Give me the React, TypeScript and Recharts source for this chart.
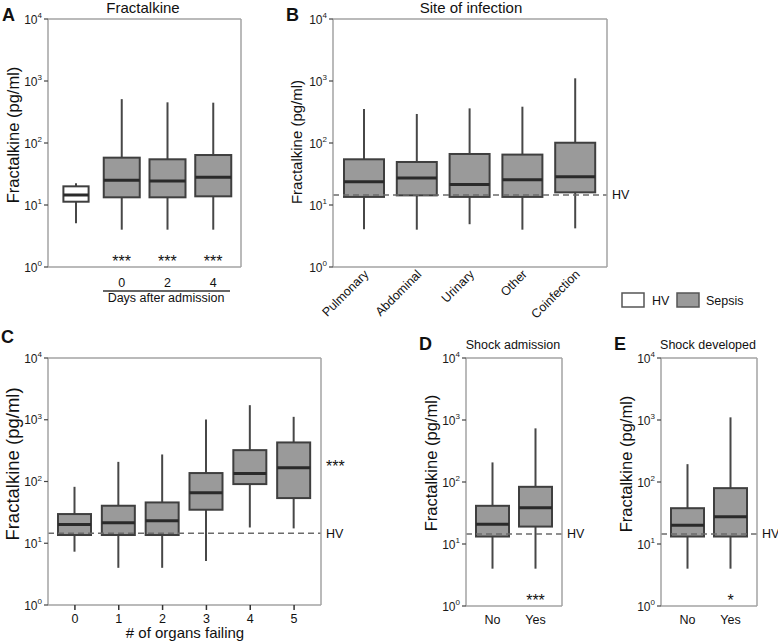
import React from 'react';
import { ComposedChart, Bar, XAxis, YAxis, ReferenceLine } from 'recharts';

// Panel A - fractalkine over days after admission
const aNames = ['HV', '0', '2', '4'];
const aMin = [5.1, 4.0, 4.0, 4.0];
const aQ1 = [11.3, 13.3, 13.3, 13.8];
const aMed = [14.5, 25, 24.4, 28];
const aQ3 = [20, 58, 54.6, 64];
const aMax = [22.5, 510, 453, 447];
const aStars = ['', '***', '***', '***'];

// Panel B - site of infection
const bNames = ['Pulmonary', 'Abdominal', 'Urinary', 'Other', 'Coinfection'];
const bMin = [4.05, 4.0, 4.9, 4.0, 4.2];
const bQ1 = [13.5, 14.3, 13.5, 13.5, 16];
const bMed = [23.8, 27.3, 21.5, 25.6, 28.6];
const bQ3 = [54.6, 49.4, 66.5, 65, 101];
const bMax = [353, 294, 362, 385, 1105];

// Panel C - number of organs failing
const cNames = ['0', '1', '2', '3', '4', '5'];
const cMin = [7.3, 4.0, 4.0, 5.15, 18, 17.4];
const cQ1 = [13.6, 13.6, 13.6, 34.9, 90.8, 53.9];
const cMed = [20.2, 21.5, 23.2, 65.7, 135, 167];
const cQ3 = [29.7, 40.5, 45.8, 137, 322, 429];
const cMax = [82, 208, 274, 1010, 1722, 1115];

// Panel D - shock at admission
const dNames = ['No', 'Yes'];
const dMin = [4.0, 4.0];
const dQ1 = [13.2, 19.1];
const dMed = [20.9, 38.3];
const dQ3 = [41.3, 83.6];
const dMax = [207, 733];
const dStars = ['', '***'];

// Panel E - shock developed
const eNames = ['No', 'Yes'];
const eMin = [4.0, 4.0];
const eQ1 = [13.2, 13.2];
const eMed = [20.1, 27.4];
const eQ3 = [37.8, 79.6];
const eMax = [194, 1104];
const eStars = ['', '*'];

const hvLevel = 14.5;
const yTicks = [1, 10, 100, 1000, 10000];

const FONT = '"Liberation Sans", Arial, Helvetica, sans-serif';
const FRAME = '#a3a3a3';
const BOX_FILL = '#9a9a9a';

interface Row {
  name: string;
  min: number;
  q1: number;
  med: number;
  q3: number;
  max: number;
  star: string;
}

const makeRows = (names: string[], mn: number[], q1: number[], med: number[], q3: number[], mx: number[], stars?: string[]): Row[] =>
  names.map((name, i) => ({ name, min: mn[i], q1: q1[i], med: med[i], q3: q3[i], max: mx[i], star: stars ? stars[i] : '' }));

const aRows = makeRows(aNames, aMin, aQ1, aMed, aQ3, aMax, aStars);
const bRows = makeRows(bNames, bMin, bQ1, bMed, bQ3, bMax);
const cRows = makeRows(cNames, cMin, cQ1, cMed, cQ3, cMax);
const dRows = makeRows(dNames, dMin, dQ1, dMed, dQ3, dMax, dStars);
const eRows = makeRows(eNames, eMin, eQ1, eMed, eQ3, eMax, eStars);

// bar spans [min, max]; inner box positions follow the same log scale
const BoxShape = (props: any) => {
  const { x, y, width, height, payload } = props;
  if (!payload) return null;
  const top = Math.min(y, y + height);
  const bot = Math.max(y, y + height);
  const lo = Math.log10(payload.min);
  const hi = Math.log10(payload.max);
  const py = (v: number) => top + ((bot - top) * (hi - Math.log10(v))) / (hi - lo);
  const isHV = payload.name === 'HV';
  const w = isHV ? width * 0.7 : width;
  const cx = x + width / 2;
  const bx = cx - w / 2;
  return (
    <g>
      <line x1={cx} x2={cx} y1={top} y2={bot} stroke="#474747" strokeWidth={2} />
      <rect x={bx} y={py(payload.q3)} width={w} height={py(payload.q1) - py(payload.q3)} fill={isHV ? '#ffffff' : BOX_FILL} stroke="#3f3f3f" strokeWidth={2} />
      <line x1={bx} x2={bx + w} y1={py(payload.med)} y2={py(payload.med)} stroke="#2a2a2a" strokeWidth={3} />
    </g>
  );
};

const LogTick = (props: any) => {
  const { x, y, payload } = props;
  const e = Math.round(Math.log10(payload.value));
  return (
    <text x={x} y={y} dy={4.5} textAnchor="end" fontSize={12} fill="#1a1a1a" fontFamily={FONT}>
      10<tspan dy={-5.5} fontSize={8}>{e}</tspan>
    </text>
  );
};

// category label under the axis, significance stars just above it
const starTick = (rows: Row[], labelGap: number, starGap: number, hide: string[] = []) => (p: any) => {
  const r = rows.find((row) => row.name === p.payload.value);
  return (
    <g fontFamily={FONT} fill="#111">
      <text x={p.x} y={p.y + labelGap} textAnchor="middle" fontSize={12.5}>
        {hide.includes(p.payload.value) ? '' : p.payload.value}
      </text>
      {r && r.star ? (
        <text x={p.x} y={p.y - starGap} textAnchor="middle" fontSize={16}>
          {r.star}
        </text>
      ) : null}
    </g>
  );
};

const rotatedTick = (p: any) => (
  <text transform={`translate(${p.x + 5},${p.y + 8}) rotate(-45)`} textAnchor="end" fontSize={12.5} fill="#111" fontFamily={FONT}>
    {p.payload.value}
  </text>
);

interface PanelProps {
  left: number;
  top: number;
  width: number;
  height: number;
  margin: { top: number; right: number; bottom: number; left: number };
  yWidth: number;
  xHeight: number;
  rows: Row[];
  barSize: number;
  hvLine: boolean;
  xTicks?: boolean;
  tick: any;
}

const BoxPanel = ({ left, top, width, height, margin, yWidth, xHeight, rows, barSize, hvLine, xTicks, tick }: PanelProps) => (
  <div style={{ position: 'absolute', left, top }}>
    <ComposedChart width={width} height={height} data={rows} margin={{ ...margin, top: margin.top - 1, right: margin.right - 1 }}>
      <XAxis
        dataKey="name"
        type="category"
        height={xHeight}
        padding={{ left: 5, right: 5 }}
        interval={0}
        tickLine={xTicks ? { stroke: '#333', strokeWidth: 1.5 } : false}
        tickSize={xTicks ? 5 : 0}
        tickMargin={0}
        axisLine={{ stroke: FRAME, strokeWidth: 1.5 }}
        tick={tick}
      />
      <XAxis xAxisId="top" orientation="top" dataKey="name" height={1} tick={false} tickLine={false} axisLine={{ stroke: FRAME, strokeWidth: 1.5 }} />
      <YAxis
        type="number"
        scale="log"
        domain={[1, 10000]}
        ticks={yTicks}
        interval={0}
        allowDataOverflow
        width={yWidth}
        tickSize={4}
        tickMargin={2}
        tickLine={{ stroke: '#444', strokeWidth: 1.2 }}
        axisLine={{ stroke: FRAME, strokeWidth: 1.5 }}
        tick={<LogTick />}
      />
      <YAxis yAxisId="right" orientation="right" type="number" domain={[0, 1]} width={1} tick={false} tickLine={false} axisLine={{ stroke: FRAME, strokeWidth: 1.5 }} />
      {hvLine && (
        <ReferenceLine
          y={hvLevel}
          stroke="#6b6b6b"
          strokeDasharray="6 4"
          strokeWidth={1.5}
          label={{ value: 'HV', position: 'right', fill: '#111', fontSize: 12.5, fontFamily: FONT }}
        />
      )}
      <Bar dataKey={(d: Row) => [d.min, d.max]} barSize={barSize} shape={BoxShape} isAnimationActive={false} />
    </ComposedChart>
  </div>
);

const yLabel = (x: number, y: number, size: number) => (
  <text transform={`translate(${x},${y}) rotate(-90)`} textAnchor="middle" dominantBaseline="central" fontSize={size}>
    Fractalkine (pg/ml)
  </text>
);

export default function App() {
  return (
    <div style={{ position: 'absolute', left: 0, top: 0, width: 778, height: 642, background: '#fff', fontFamily: FONT }}>
      <BoxPanel left={0} top={0} width={250} height={310} margin={{ top: 19, right: 9, bottom: 18, left: 0 }} yWidth={48} xHeight={25} rows={aRows} barSize={36} hvLine={false} tick={starTick(aRows, 19.5, 0, ['HV'])} />
      <BoxPanel left={250} top={0} width={390} height={320} margin={{ top: 19, right: 33, bottom: 0, left: 0 }} yWidth={83} xHeight={53} rows={bRows} barSize={40} hvLine tick={rotatedTick} />
      <BoxPanel left={0} top={340} width={360} height={302} margin={{ top: 18, right: 39, bottom: 0, left: 0 }} yWidth={48} xHeight={37} rows={cRows} barSize={33} hvLine xTicks tick={starTick(cRows, 12.5, 5)} />
      <BoxPanel left={380} top={340} width={230} height={302} margin={{ top: 18, right: 48, bottom: 0, left: 0 }} yWidth={86} xHeight={36} rows={dRows} barSize={33} hvLine tick={starTick(dRows, 18, 0)} />
      <BoxPanel left={610} top={340} width={168} height={302} margin={{ top: 18, right: 21, bottom: 0, left: 0 }} yWidth={51} xHeight={36} rows={eRows} barSize={33} hvLine tick={starTick(eRows, 18, 0)} />

      <svg width={778} height={642} style={{ position: 'absolute', left: 0, top: 0, pointerEvents: 'none' }} fontFamily={FONT} fill="#111">
        <text x={2} y={21} fontSize={18} fontWeight="bold">A</text>
        <text x={143} y={13} fontSize={15} textAnchor="middle">Fractalkine</text>
        {yLabel(12.5, 135, 16.5)}
        <line x1={103} x2={230} y1={291} y2={291} stroke="#333" strokeWidth={1.5} />
        <text x={166} y={302} fontSize={12.5} textAnchor="middle">Days after admission</text>

        <text x={286} y={21} fontSize={18} fontWeight="bold">B</text>
        <text x={471} y={13} fontSize={15} textAnchor="middle">Site of infection</text>
        {yLabel(296.5, 142, 15)}

        <rect x={622} y={293} width={22} height={14} fill="#fff" stroke="#555" strokeWidth={1.5} />
        <text x={652} y={304.5} fontSize={12.5}>HV</text>
        <rect x={677} y={293} width={22} height={14} fill={BOX_FILL} stroke="#555" strokeWidth={1.5} />
        <text x={706} y={304.5} fontSize={12.5}>Sepsis</text>

        <text x={1} y={343} fontSize={18} fontWeight="bold">C</text>
        {yLabel(12.5, 464, 18.5)}
        <text x={185} y={638} fontSize={15} textAnchor="middle"># of organs failing</text>
        <text x={326} y={472} fontSize={16}>***</text>

        <text x={419} y={350} fontSize={18} fontWeight="bold">D</text>
        <text x={513} y={349} fontSize={12.5} textAnchor="middle">Shock admission</text>
        {yLabel(431, 463, 16.5)}

        <text x={614} y={350} fontSize={18} fontWeight="bold">E</text>
        <text x={708} y={349} fontSize={12.5} textAnchor="middle">Shock developed</text>
        {yLabel(626, 464, 16.5)}
      </svg>
    </div>
  );
}
